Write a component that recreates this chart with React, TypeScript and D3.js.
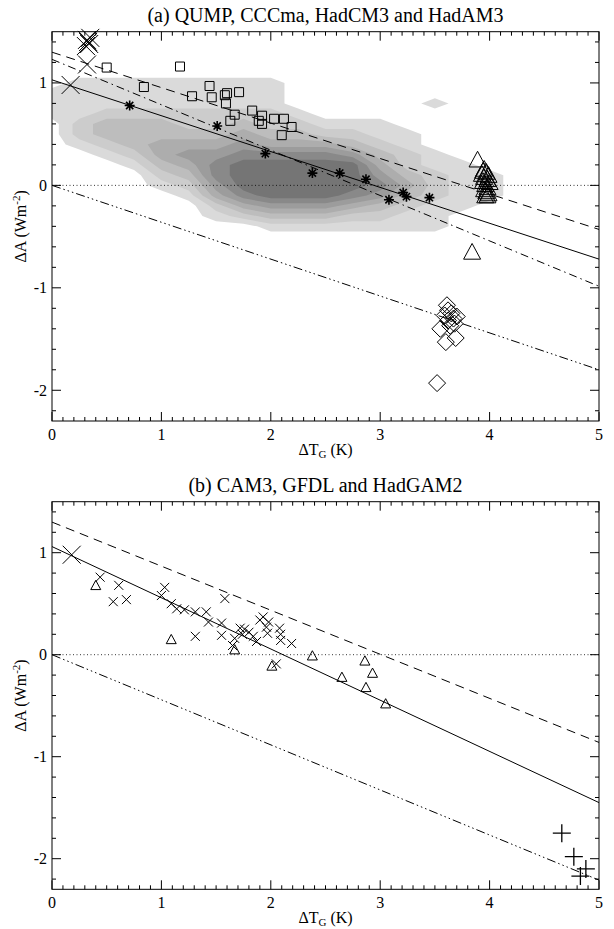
import React from "react";
import * as d3 from "d3";

// ---- axes ----
const xDomain = [0, 5];
const yDomain = [-2.3, 1.5];
const xTickValues = [0, 1, 2, 3, 4, 5];
const yTickValues = [-2, -1, 0, 1];

// ---- panel (a) density of the perturbed-physics ensemble ----
// grid: columns x = 0..5 step 0.25, rows y = 1.2 .. -0.7 step 0.1, value = shading level
const densityX0 = 0;
const densityDx = 0.25;
const densityY0 = 1.2;
const densityDy = 0.1;
const densityRows = [
  "000000000000000000000",
  "000000000000000000000",
  "011111111000000000000",
  "111111111000000000000",
  "111111111000001000000",
  "112222222100000000000",
  "023332232211100000000",
  "023333343322110000000",
  "012344454443210000000",
  "001245566665321000000",
  "000134677777421100000",
  "000023677777532110000",
  "000012577777642110000",
  "000001467776532110000",
  "000000245554321100000",
  "000000123332211000000",
  "000000001111111000000",
  "000000000000000000000",
  "000000000000000000000",
  "000000000000000000000",
];
const densityColors = ["#dadada", "#cccccc", "#bdbdbd", "#adadad", "#9c9c9c", "#898989", "#757575"];

// ---- panel (a) points ----
const bigCrossA: [number, number][] = [
  [0.17, 0.98], [0.32, 1.42], [0.34, 1.38], [0.31, 1.36], [0.35, 1.44], [0.33, 1.4], [0.32, 1.18],
];
const squaresA: [number, number][] = [
  [0.5, 1.15], [1.17, 1.16], [0.84, 0.96], [1.28, 0.87], [1.44, 0.97], [1.46, 0.86], [1.58, 0.88],
  [1.6, 0.9], [1.59, 0.8], [1.71, 0.91], [1.63, 0.63], [1.67, 0.69], [1.83, 0.73], [1.89, 0.63],
  [1.92, 0.68], [1.92, 0.6], [2.03, 0.65], [2.12, 0.65], [2.1, 0.49], [2.19, 0.57],
];
const asterisksA: [number, number][] = [
  [0.71, 0.78], [1.51, 0.58], [1.95, 0.31], [2.38, 0.12], [2.63, 0.12], [2.87, 0.06],
  [3.08, -0.14], [3.21, -0.07], [3.24, -0.11], [3.45, -0.12],
];
const trianglesA: [number, number][] = [
  [3.89, 0.25], [3.84, -0.65],
  [3.95, 0.16], [3.94, 0.14], [3.97, 0.13], [3.93, 0.11], [3.99, 0.1], [3.95, 0.08], [3.98, 0.06],
  [3.94, 0.04], [4.0, 0.03], [3.96, 0.01], [3.98, -0.02], [3.95, -0.04], [3.97, -0.06],
  [3.99, -0.08], [3.96, -0.1], [3.98, -0.1],
];
const diamondsA: [number, number][] = [
  [3.61, -1.17], [3.62, -1.22], [3.65, -1.25], [3.59, -1.27], [3.67, -1.3], [3.62, -1.32],
  [3.7, -1.28], [3.64, -1.37], [3.68, -1.35], [3.55, -1.4], [3.6, -1.53], [3.69, -1.49], [3.52, -1.93],
];
const solidA: [number, number][] = [[0, 1.03], [5, -0.72]];
const dashedA: [number, number][] = [[0, 1.3], [5, -0.43]];
const dashDotA: [number, number][] = [[0, 1.23], [5, -0.985]];
const dashDotDotA: [number, number][] = [[0, 0], [5, -1.8]];

// ---- panel (b) points ----
const bigCrossB: [number, number][] = [[0.18, 0.98]];
const crossesB: [number, number][] = [
  [0.44, 0.76], [0.61, 0.68], [0.56, 0.52], [0.68, 0.54], [1.03, 0.66], [1.0, 0.58], [1.09, 0.5],
  [1.14, 0.45], [1.21, 0.44], [1.31, 0.42], [1.41, 0.42], [1.43, 0.32], [1.58, 0.55], [1.55, 0.31],
  [1.55, 0.19], [1.31, 0.18], [1.67, 0.16], [1.65, 0.09], [1.72, 0.26], [1.76, 0.25], [1.74, 0.2],
  [1.8, 0.22], [1.84, 0.18], [1.87, 0.13], [1.9, 0.34], [1.93, 0.37], [1.98, 0.32], [1.96, 0.27],
  [1.97, 0.21], [2.08, 0.26], [2.09, 0.2], [2.09, 0.14], [2.19, 0.11], [2.05, -0.09],
];
const trianglesB: [number, number][] = [
  [0.4, 0.68], [1.09, 0.15], [1.67, 0.05], [2.01, -0.11], [2.38, -0.01], [2.86, -0.06],
  [2.93, -0.18], [2.65, -0.22], [2.87, -0.32], [3.05, -0.48],
];
const plusesB: [number, number][] = [[4.66, -1.75], [4.77, -1.98], [4.88, -2.1], [4.83, -2.17]];
const solidB: [number, number][] = [[0, 1.06], [5, -1.45]];
const dashedB: [number, number][] = [[0, 1.3], [5, -0.86]];
const dashDotDotB: [number, number][] = [[0, 0], [5, -2.21]];

// ---- layout ----
const W = 614;
const H = 929;
const LEFT = 52;
const RIGHT = 599;
const SERIF = "'Liberation Serif', 'Times New Roman', serif";

const x = d3.scaleLinear().domain(xDomain).range([LEFT, RIGHT]);

const DASH = "9,6";
const DASHDOT = "8,4,1.5,4";
const DASHDOT3 = "9,3,1.5,3,1.5,3,1.5,3";

type Pt = [number, number];

const txt = (size: number, anchor: string) => ({ fontFamily: SERIF, fontSize: `${size}px`, textAnchor: anchor as any });

function Frame({ y, top, bottom }: { y: d3.ScaleLinear<number, number>; top: number; bottom: number }) {
  const xMinor = d3.range(0, 51).map((i) => i / 10);
  const yMinor = d3.range(-11, 8).map((i) => i / 5);
  return (
    <g stroke="#000" strokeWidth={1} fill="none">
      <rect x={LEFT} y={top} width={RIGHT - LEFT} height={bottom - top} />
      {xMinor.map((v, i) => {
        const len = i % 10 === 0 ? 9 : 4;
        return (
          <g key={"x" + i}>
            <line x1={x(v)} x2={x(v)} y1={bottom} y2={bottom - len} />
            <line x1={x(v)} x2={x(v)} y1={top} y2={top + len} />
          </g>
        );
      })}
      {yMinor.map((v, i) => {
        const len = Math.abs(v - Math.round(v)) < 1e-6 ? 9 : 4;
        return (
          <g key={"y" + i}>
            <line x1={LEFT} x2={LEFT + len} y1={y(v)} y2={y(v)} />
            <line x1={RIGHT} x2={RIGHT - len} y1={y(v)} y2={y(v)} />
          </g>
        );
      })}
    </g>
  );
}

function Labels({ y, top, bottom, title }: { y: d3.ScaleLinear<number, number>; top: number; bottom: number; title: string }) {
  const mid = (top + bottom) / 2;
  return (
    <g fill="#000">
      <text x={(LEFT + RIGHT) / 2} y={top - 10} style={txt(20, "middle")}>{title}</text>
      {xTickValues.map((v) => (
        <text key={v} x={x(v)} y={bottom + 19} style={txt(16, "middle")}>{v}</text>
      ))}
      {yTickValues.map((v) => (
        <text key={v} x={LEFT - 5} y={y(v) + 5.5} style={txt(16, "end")}>{v}</text>
      ))}
      <text x={(LEFT + RIGHT) / 2} y={bottom + 34} style={txt(16, "middle")}>
        ΔT<tspan dy={3} style={{ fontSize: "11px" }}>G</tspan><tspan dy={-3}> (K)</tspan>
      </text>
      <text transform={`translate(26,${mid}) rotate(-90)`} style={txt(16, "middle")}>
        ΔA (Wm<tspan dy={-6} style={{ fontSize: "11px" }}>-2</tspan><tspan dy={6}>)</tspan>
      </text>
    </g>
  );
}

function FitLine({ pts, y, dash, width = 1 }: { pts: Pt[]; y: d3.ScaleLinear<number, number>; dash?: string; width?: number }) {
  const line = d3.line<Pt>().x((d) => x(d[0])).y((d) => y(d[1]));
  return <path d={line(pts) || ""} fill="none" stroke="#000" strokeWidth={width} strokeDasharray={dash} />;
}

const markers = {
  cross: (s: number) => `M${-s},${-s}L${s},${s}M${-s},${s}L${s},${-s}`,
  plus: (s: number) => `M${-s},0L${s},0M0,${-s}L0,${s}`,
  square: (s: number) => `M${-s},${-s}H${s}V${s}H${-s}Z`,
  diamond: (s: number) => `M0,${-s}L${s},0L0,${s}L${-s},0Z`,
  triangle: (s: number) => `M0,${-s}L${s},${s * 0.85}L${-s},${s * 0.85}Z`,
  asterisk: (s: number) => {
    const d = s * 0.72;
    return `M${-s},0L${s},0M0,${-s}L0,${s}M${-d},${-d}L${d},${d}M${-d},${d}L${d},${-d}`;
  },
};

function Points({ pts, y, kind, size, width = 1 }: { pts: Pt[]; y: d3.ScaleLinear<number, number>; kind: keyof typeof markers; size: number; width?: number }) {
  const d = markers[kind](size);
  return (
    <g fill="none" stroke="#000" strokeWidth={width}>
      {pts.map((p, i) => (
        <path key={i} d={d} transform={`translate(${x(p[0])},${y(p[1])})`} />
      ))}
    </g>
  );
}

function Density({ y }: { y: d3.ScaleLinear<number, number> }) {
  const nx = densityRows[0].length;
  const ny = densityRows.length;
  const values = densityRows.flatMap((r) => r.split("").map(Number));
  const sets = d3.contours().size([nx, ny]).thresholds(d3.range(0.5, 7, 1))(values);
  const px = (c: number) => x(densityX0 + (c - 0.5) * densityDx);
  const py = (r: number) => y(densityY0 - (r - 0.5) * densityDy);
  return (
    <g>
      {sets.map((mp, i) => {
        const d = mp.coordinates
          .map((poly) =>
            poly.map((ring) => "M" + ring.map(([c, r]) => `${px(c)},${py(r)}`).join("L") + "Z").join("")
          )
          .join("");
        return <path key={i} d={d} fill={densityColors[i]} fillRule="evenodd" stroke="none" />;
      })}
    </g>
  );
}

export default function App() {
  const topA = 31.7, botA = 421;
  const topB = 501.7, botB = 889.3;
  const yA = d3.scaleLinear().domain(yDomain).range([botA, topA]);
  const yB = d3.scaleLinear().domain(yDomain).range([botB, topB]);

  return (
    <svg width={W} height={H} style={{ position: "absolute", left: 0, top: 0, background: "#fff" }}>
      <defs>
        <clipPath id="clipA"><rect x={LEFT} y={topA} width={RIGHT - LEFT} height={botA - topA} /></clipPath>
        <clipPath id="clipB"><rect x={LEFT} y={topB} width={RIGHT - LEFT} height={botB - topB} /></clipPath>
      </defs>
      <rect width={W} height={H} fill="#fff" />

      {/* panel (a) */}
      <g clipPath="url(#clipA)">
        <Density y={yA} />
        <FitLine pts={[[0, 0], [5, 0]]} y={yA} dash="1,2.5" width={0.8} />
        <FitLine pts={solidA} y={yA} />
        <FitLine pts={dashedA} y={yA} dash={DASH} />
        <FitLine pts={dashDotA} y={yA} dash={DASHDOT} />
        <FitLine pts={dashDotDotA} y={yA} dash={DASHDOT3} />
      </g>
      <Points pts={squaresA} y={yA} kind="square" size={4.5} />
      <Points pts={asterisksA} y={yA} kind="asterisk" size={5} width={1.6} />
      <Points pts={trianglesA} y={yA} kind="triangle" size={8.5} />
      <Points pts={diamondsA} y={yA} kind="diamond" size={8.5} />
      <Points pts={bigCrossA} y={yA} kind="cross" size={9} />
      <Frame y={yA} top={topA} bottom={botA} />
      <Labels y={yA} top={topA} bottom={botA} title="(a) QUMP, CCCma, HadCM3 and HadAM3" />

      {/* panel (b) */}
      <g clipPath="url(#clipB)">
        <FitLine pts={[[0, 0], [5, 0]]} y={yB} dash="1,2.5" width={0.8} />
        <FitLine pts={solidB} y={yB} />
        <FitLine pts={dashedB} y={yB} dash={DASH} />
        <FitLine pts={dashDotDotB} y={yB} dash={DASHDOT3} />
      </g>
      <Points pts={crossesB} y={yB} kind="cross" size={4.5} />
      <Points pts={trianglesB} y={yB} kind="triangle" size={5} />
      <Points pts={plusesB} y={yB} kind="plus" size={9} width={1.3} />
      <Points pts={bigCrossB} y={yB} kind="cross" size={9} />
      <Frame y={yB} top={topB} bottom={botB} />
      <Labels y={yB} top={topB} bottom={botB} title="(b) CAM3, GFDL and HadGAM2" />
    </svg>
  );
}
